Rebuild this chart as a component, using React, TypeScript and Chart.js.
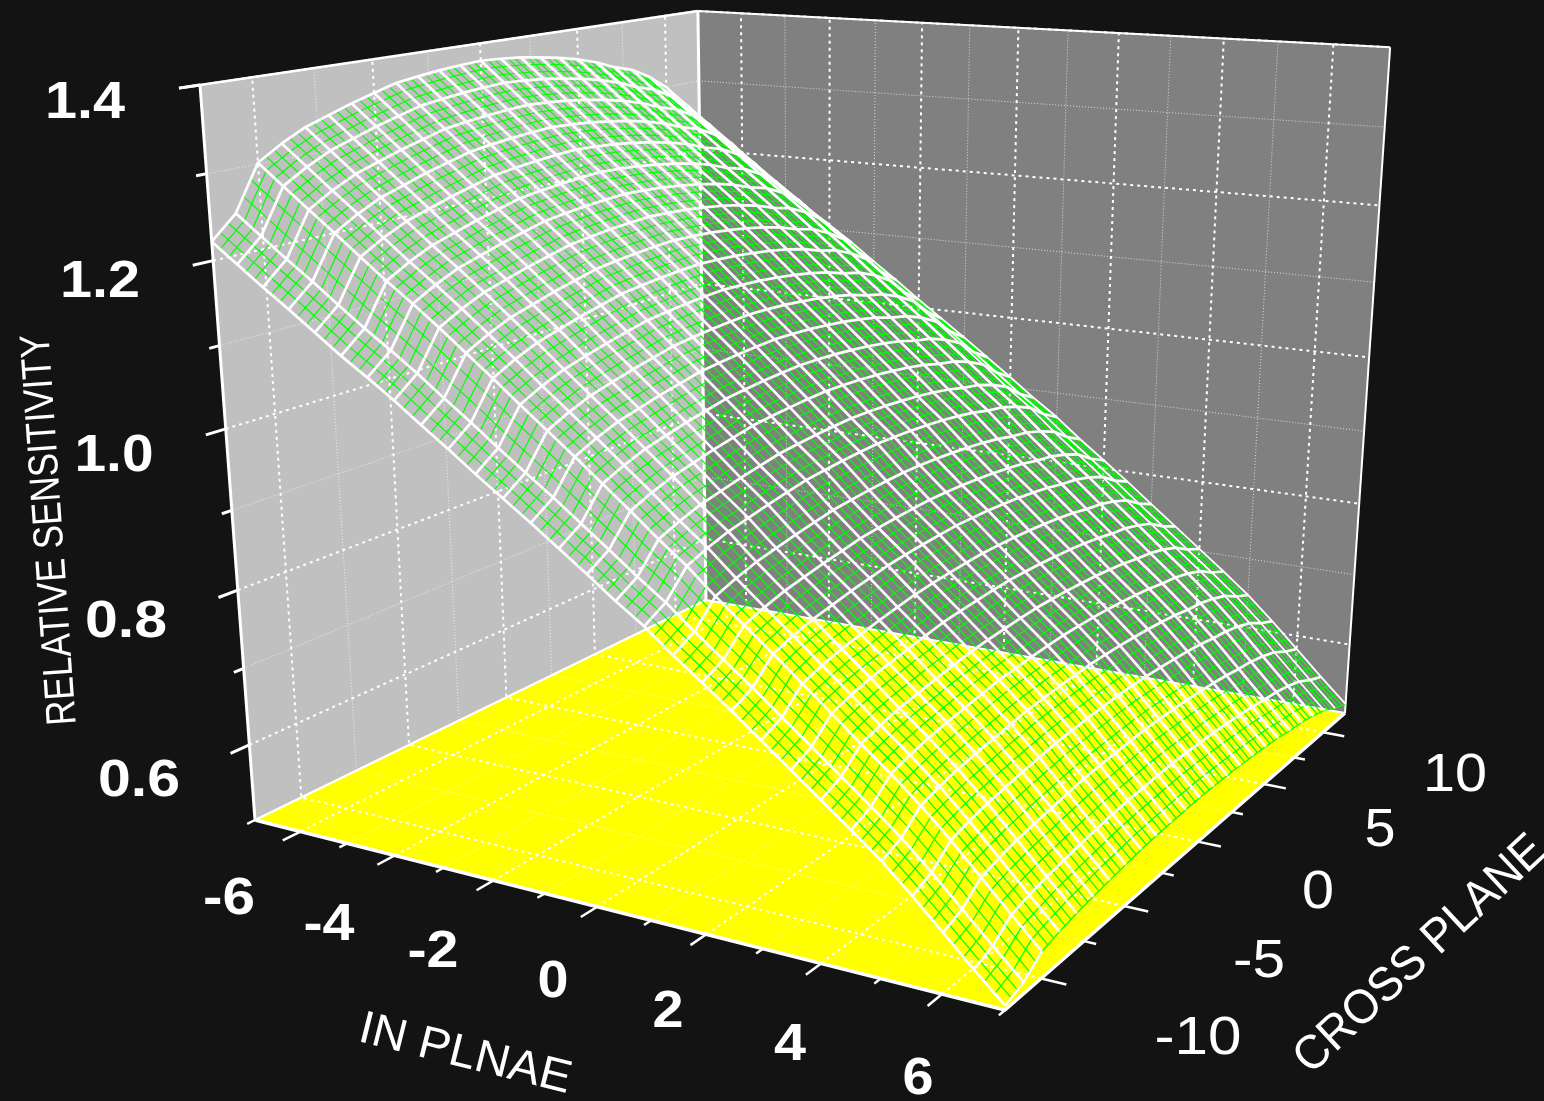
import React, { useEffect, useRef } from "react";
import { Chart, registerables } from "chart.js";

Chart.register(...registerables);

// ---------- data ----------
const inPlanePositions = [
  -7, -6.5, -6, -5.5, -5, -4.5, -4, -3.5, -3, -2.5, -2, -1.5, -1, -0.5, 0, 0.5, 1, 1.5, 2, 2.5, 3, 3.5, 4, 4.5, 5, 5.5, 6, 6.5, 7,
];
const crossPlanePositions = [
  -12, -11, -10, -9, -8, -7, -6, -5, -4, -3, -2, -1, 0, 1, 2, 3, 4, 5, 6, 7, 8, 9, 10, 11, 12,
];
// sensitivity along the front edge (cross plane = -12) at each in-plane position
const edgeSection = [
  1.222, 1.199, 1.176, 1.154, 1.131, 1.108, 1.087, 1.065, 1.041, 1.018, 0.994, 0.971, 0.948, 0.924, 0.9, 0.875, 0.852, 0.825,
  0.8, 0.774, 0.747, 0.72, 0.693, 0.666, 0.638, 0.606, 0.572, 0.538, 0.505,
];
// sensitivity along the crest (cross plane = 0) at each in-plane position
const crestSection = [
  1.378, 1.352, 1.326, 1.3, 1.274, 1.248, 1.223, 1.197, 1.17, 1.143, 1.114, 1.086, 1.058, 1.029, 1.0, 0.97, 0.942, 0.91, 0.88,
  0.852, 0.822, 0.793, 0.763, 0.734, 0.703, 0.669, 0.632, 0.595, 0.558,
];
// relative height of the arch between edge (0) and crest (1) at each cross-plane position
const archShape = [
  0, 0.17, 0.51, 0.62, 0.71, 0.77, 0.83, 0.88, 0.93, 0.955, 0.975, 0.99, 1, 0.99, 0.975, 0.95, 0.92, 0.88, 0.83, 0.76, 0.71,
  0.62, 0.5, 0.3, 0.15,
];

const inTicks = [-6, -5, -4, -3, -2, -1, 0, 1, 2, 3, 4, 5, 6];
const crossTicks = [-10, -7.5, -5, -2.5, 0, 2.5, 5, 7.5, 10];
const zTicks = [0.6, 0.7, 0.8, 0.9, 1.0, 1.1, 1.2, 1.3, 1.4];
const inMajor = [-6, -4, -2, 0, 2, 4, 6];
const crossMajor = [-10, -5, 0, 5, 10];
const zMajor = [0.6, 0.8, 1.0, 1.2, 1.4];

const inRange = [-7, 7];
const crossRange = [-12, 12];
const zRange = [0.5, 1.4];

const COLORS = { page: "#131313", left: "#c0c0c0", right: "#808080", floor: "#ffff00", white: "#ffffff", green: "#00ff00" };

// ---------- camera: 3D data -> coordinates on the chart's linear scales ----------
function project(a: number, c: number, z: number) {
  const u = (a - inRange[0]) / (inRange[1] - inRange[0]);
  const v = (c - crossRange[0]) / (crossRange[1] - crossRange[0]);
  const w = (z - zRange[0]) / (zRange[1] - zRange[0]);
  const den = 1 - 0.16065 * u + 0.25919 * v - 0.09 * w;
  return {
    x: (255 + 588.55 * u + 633.99 * v - 73 * w) / den - 2.5 * u * w,
    y: (820 + 27.74 * u - 64.49 * v - 742.65 * w) / den + 7 * u * w,
  };
}

const height = (k: number, i: number) => edgeSection[k] + (crestSection[k] - edgeSection[k]) * archShape[i];

function fracHeight(kf: number, jf: number) {
  const k0 = Math.min(Math.floor(kf), inPlanePositions.length - 2);
  const j0 = Math.min(Math.floor(jf), crossPlanePositions.length - 2);
  const a = kf - k0;
  const b = jf - j0;
  return (
    (1 - a) * (1 - b) * height(k0, j0) + a * (1 - b) * height(k0 + 1, j0) + (1 - a) * b * height(k0, j0 + 1) + a * b * height(k0 + 1, j0 + 1)
  );
}

function buildDatasets() {
  const list: any[] = [];
  const line = (data: any[], color: string, width: number, dash: number[] = []) =>
    list.push({ data, showLine: true, pointRadius: 0, borderColor: color, borderWidth: width, borderDash: dash, tension: 0, fill: false, borderJoinStyle: "round" });
  const poly = (data: any[], color: string) =>
    list.push({ data: [...data, data[0]], showLine: true, pointRadius: 0, borderWidth: 0, borderColor: color, backgroundColor: color, fill: "shape", tension: 0 });

  const [a0, a1] = inRange;
  const [c0, c1] = crossRange;
  const [z0, z1] = zRange;

  poly([project(a0, c0, z0), project(a0, c1, z0), project(a0, c1, z1), project(a0, c0, z1)], COLORS.left);
  poly([project(a0, c1, z0), project(a1, c1, z0), project(a1, c1, z1), project(a0, c1, z1)], COLORS.right);
  poly([project(a0, c0, z0), project(a1, c0, z0), project(a1, c1, z0), project(a0, c1, z0)], COLORS.floor);

  const style = (major: boolean): [string, number, number[]] =>
    major ? [COLORS.white, 2, [3, 4]] : ["rgba(255,255,255,0.7)", 1, [1, 2]];

  for (const t of inTicks) {
    const s = style(inMajor.includes(t));
    line([project(t, c0, z0), project(t, c1, z0), project(t, c1, z1)], s[0], s[1], s[2]);
  }
  for (const t of crossTicks) {
    const s = style(crossMajor.includes(t));
    line([project(a1, t, z0), project(a0, t, z0), project(a0, t, z1)], s[0], s[1], s[2]);
  }
  for (const t of zTicks) {
    const s = style(zMajor.includes(t));
    line([project(a0, c0, t), project(a0, c1, t), project(a1, c1, t)], s[0], s[1], s[2]);
  }

  // frame
  line([project(a0, c0, z1), project(a0, c0, z0)], COLORS.white, 3);
  line([project(a0, c0, z1), project(a0, c1, z1)], COLORS.white, 2.5);
  line([project(a0, c1, z0), project(a0, c1, z1)], COLORS.white, 3);
  line([project(a0, c1, z1), project(a1, c1, z1)], COLORS.white, 2);
  line([project(a1, c1, z1), project(a1, c1, z0)], COLORS.white, 2);
  line([project(a0, c0, z0), project(a0, c1, z0), project(a1, c1, z0)], COLORS.white, 2);
  line([project(a0, c0, z0), project(a1, c0, z0), project(a1, c1, z0)], COLORS.white, 3.5);

  // ticks
  for (const t of zTicks) {
    const m = zMajor.includes(t);
    line([project(a0, c0, t), project(a0, c0 - (m ? 0.78 : 0.4), t)], COLORS.white, 3);
  }
  line([project(a0, c0, z1), project(a0, c0 - 0.78, z1)], COLORS.white, 3);
  for (const t of [a0, ...inTicks, a1]) {
    const m = inMajor.includes(t);
    line([project(t, c0, z0), project(t, c0 - (m ? 0.75 : 0.33), z0)], COLORS.white, 2.5);
  }
  for (const t of crossTicks) {
    const m = crossMajor.includes(t);
    line([project(a1, t, z0), project(a1 + (m ? 0.4 : 0.2), t, z0)], COLORS.white, 2.5);
  }

  // green sub-mesh
  const nK = inPlanePositions.length;
  const nJ = crossPlanePositions.length;
  const at = (kf: number, jf: number) => {
    const a = a0 + (kf / (nK - 1)) * (a1 - a0);
    const c = c0 + (jf / (nJ - 1)) * (c1 - c0);
    return project(a, c, fracHeight(kf, jf));
  };
  for (let k = 0; k < nK - 1; k++) {
    for (const f of [1 / 3, 2 / 3]) {
      const pts = crossPlanePositions.map((_, j) => at(k + f, j));
      line(pts, COLORS.green, 1.2);
    }
  }
  for (let j = 0; j < nJ - 1; j++) {
    for (const f of [1 / 3, 2 / 3]) {
      const pts = inPlanePositions.map((_, k) => at(k, j + f));
      line(pts, COLORS.green, 1.2);
    }
  }
  // white mesh
  const node = (k: number, j: number) => project(inPlanePositions[k], crossPlanePositions[j], height(k, j));
  line(crossPlanePositions.map((_, j) => node(nK - 1, j)), COLORS.green, 1.2);
  line([node(nK - 1, 0), node(nK - 1, 1), node(nK - 1, 2)], COLORS.white, 2.4);
  for (let k = 0; k < nK - 1; k++) {
    line(crossPlanePositions.map((_, j) => node(k, j)), COLORS.white, 2.7);
  }
  for (let j = 0; j < nJ; j++) {
    line(inPlanePositions.map((_, k) => node(k, j)), COLORS.white, j >= nJ - 3 ? 1.8 : 2.7);
  }
  list.forEach((d, i) => (d.order = list.length - i));
  return list;
}

// ---------- text placement ----------
type Label = { t: string; x: number; y: number; a: number; s: number; b: boolean; w: number };
const labels: Label[] = [
  { t: "1.4", x: 85, y: 99, a: 0, s: 52, b: true, w: 80 },
  { t: "1.2", x: 100, y: 278, a: 0, s: 52, b: true, w: 80 },
  { t: "1.0", x: 114, y: 452, a: 0, s: 52, b: true, w: 79 },
  { t: "0.8", x: 126, y: 618, a: 0, s: 52, b: true, w: 82 },
  { t: "0.6", x: 139, y: 777, a: 0, s: 52, b: true, w: 82 },
  { t: "-6", x: 229, y: 895, a: 0, s: 52, b: true, w: 52 },
  { t: "-4", x: 329, y: 921, a: 0, s: 52, b: true, w: 51 },
  { t: "-2", x: 433, y: 948, a: 0, s: 52, b: true, w: 51 },
  { t: "0", x: 553, y: 978, a: 0, s: 52, b: true, w: 31 },
  { t: "2", x: 668, y: 1008, a: 0, s: 52, b: true, w: 31 },
  { t: "4", x: 790, y: 1041, a: 0, s: 52, b: true, w: 32 },
  { t: "6", x: 918, y: 1075, a: 0, s: 52, b: true, w: 31 },
  { t: "10", x: 1455, y: 772, a: 0, s: 54, b: false, w: 64 },
  { t: "5", x: 1380, y: 827, a: 0, s: 54, b: false, w: 31 },
  { t: "0", x: 1318, y: 889, a: 0, s: 54, b: false, w: 32 },
  { t: "-5", x: 1259, y: 958, a: 0, s: 54, b: false, w: 52 },
  { t: "-10", x: 1198, y: 1035, a: 0, s: 54, b: false, w: 87 },
  { t: "RELATIVE SENSITIVITY", x: 47, y: 530, a: -94, s: 42, b: false, w: 392 },
  { t: "IN PLNAE", x: 466, y: 1051, a: 14, s: 46, b: false, w: 217 },
  { t: "CROSS PLANE", x: 1418, y: 952, a: -43, s: 48, b: false, w: 325 },
];

const textPlugin = {
  id: "axisText",
  afterDraw(chart: any) {
    const ctx = chart.ctx;
    for (const l of labels) {
      ctx.save();
      ctx.font = `${l.b ? "bold " : ""}${l.s}px "Liberation Sans", Arial, sans-serif`;
      ctx.fillStyle = COLORS.white;
      ctx.textAlign = "center";
      ctx.textBaseline = "alphabetic";
      const m = ctx.measureText(l.t).width;
      ctx.translate(l.x, l.y);
      ctx.rotate((l.a * Math.PI) / 180);
      ctx.scale(l.w / m, 1);
      ctx.fillText(l.t, 0, 0.358 * l.s);
      ctx.restore();
    }
  },
};

export default function App() {
  const ref = useRef<HTMLCanvasElement>(null);
  useEffect(() => {
    if (!ref.current) return;
    const chart = new Chart(ref.current, {
      type: "scatter",
      data: { datasets: buildDatasets() },
      options: {
        responsive: false,
        animation: false,
        devicePixelRatio: 1,
        events: [],
        layout: { padding: 0 },
        plugins: { legend: { display: false }, tooltip: { enabled: false }, title: { display: false } },
        scales: {
          x: { type: "linear", min: 0, max: 1544, display: false },
          y: { type: "linear", min: 0, max: 1101, reverse: true, display: false },
        },
      },
      plugins: [textPlugin],
    } as any);
    return () => chart.destroy();
  }, []);
  return (
    <div style={{ position: "fixed", left: 0, top: 0, width: 1544, height: 1101, background: COLORS.page, overflow: "hidden" }}>
      <canvas ref={ref} width={1544} height={1101} style={{ display: "block" }} />
    </div>
  );
}
